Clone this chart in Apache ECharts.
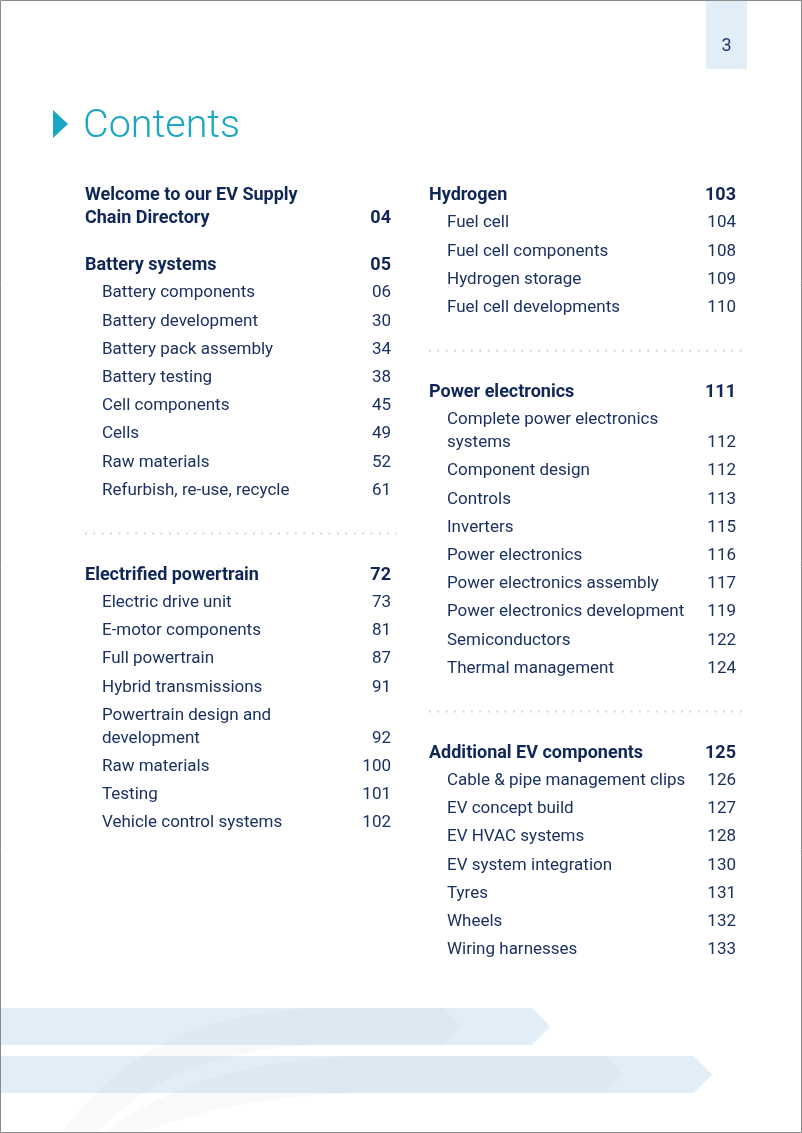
<!DOCTYPE html>
<html><head><meta charset="utf-8">
<script src="https://cdn.jsdelivr.net/npm/echarts@6/dist/echarts.min.js"></script>
<style>html,body{margin:0;padding:0;background:#fff}#c{width:802px;height:1133px}</style>
</head><body><div id="c"></div>
<script>
// ---- content (text, page, kind) ----
// kinds: h = heading, hc = heading continuation line, i = item, ic = item continuation, gap = blank gap, sep = dotted separator
const leftRows = [
  ['Welcome to our EV Supply', '', 'h'],
  ['Chain Directory', '04', 'hc'],
  ['', '', 'gap'],
  ['Battery systems', '05', 'h'],
  ['Battery components', '06', 'i'],
  ['Battery development', '30', 'i'],
  ['Battery pack assembly', '34', 'i'],
  ['Battery testing', '38', 'i'],
  ['Cell components', '45', 'i'],
  ['Cells', '49', 'i'],
  ['Raw materials', '52', 'i'],
  ['Refurbish, re-use, recycle', '61', 'i'],
  ['', '', 'sep'],
  ['Electrified powertrain', '72', 'h'],
  ['Electric drive unit', '73', 'i'],
  ['E-motor components', '81', 'i'],
  ['Full powertrain', '87', 'i'],
  ['Hybrid transmissions', '91', 'i'],
  ['Powertrain design and', '', 'i'],
  ['development', '92', 'ic'],
  ['Raw materials', '100', 'i'],
  ['Testing', '101', 'i'],
  ['Vehicle control systems', '102', 'i']
];
const rightRows = [
  ['Hydrogen', '103', 'h'],
  ['Fuel cell', '104', 'i'],
  ['Fuel cell components', '108', 'i'],
  ['Hydrogen storage', '109', 'i'],
  ['Fuel cell developments', '110', 'i'],
  ['', '', 'sep'],
  ['Power electronics', '111', 'h'],
  ['Complete power electronics', '', 'i'],
  ['systems', '112', 'ic'],
  ['Component design', '112', 'i'],
  ['Controls', '113', 'i'],
  ['Inverters', '115', 'i'],
  ['Power electronics', '116', 'i'],
  ['Power electronics assembly', '117', 'i'],
  ['Power electronics development', '119', 'i'],
  ['Semiconductors', '122', 'i'],
  ['Thermal management', '124', 'i'],
  ['', '', 'sep'],
  ['Additional EV components', '125', 'h'],
  ['Cable & pipe management clips', '126', 'i'],
  ['EV concept build', '127', 'i'],
  ['EV HVAC systems', '128', 'i'],
  ['EV system integration', '130', 'i'],
  ['Tyres', '131', 'i'],
  ['Wheels', '132', 'i'],
  ['Wiring harnesses', '133', 'i']
];
const pageTitle = 'Contents';
const pageNumber = '3';

// ---- layout ----
const NAVY = '#0f2657', ITEM = '#1a3262', TEAL = '#1aa6c4', BAND = '#e2eef7';
const FONT = 'Roboto, "Open Sans", sans-serif';
const ROW = 28.2, WRAP = 23, GAP = 47, SEPGAP = 84, SEPOFF = 45, TOP = 195;

function layout(rows, xHead, xItem, xPage, sepX0, sepX1) {
  const out = {head: [], item: [], headPage: [], itemPage: [], seps: []};
  let y = null, prevKind = null;
  rows.forEach(r => {
    const kind = r[2];
    if (kind === 'gap' || kind === 'sep') { prevKind = kind; return; }
    if (y === null) y = TOP;
    else if (kind.endsWith('c')) y += WRAP;
    else if (prevKind === 'gap') y += GAP;
    else if (prevKind === 'sep') { out.seps.push(y + SEPOFF - 2); y += SEPGAP; }
    else y += ROW;
    const isHead = kind[0] === 'h';
    (isHead ? out.head : out.item).push({value: [isHead ? xHead : xItem, y], name: r[0]});
    if (r[1]) (isHead ? out.headPage : out.itemPage).push({value: [xPage, y], name: r[1]});
    prevKind = kind;
  });
  out.sepLines = out.seps.map(sy => [[sepX0, sy], [sepX1, sy]]);
  return out;
}
const L = layout(leftRows, 85, 102, 391, 85, 397);
const R = layout(rightRows, 429, 447, 736, 429, 743);

function textSeries(data, bold, pos) {
  return {
    type: 'scatter', data: data, symbolSize: 0, silent: true, z: 5,
    itemStyle: {opacity: 1},
    label: {
      show: true, position: pos, distance: 0, opacity: 1,
      offset: bold ? [0, 0.5] : [0, 0],
      formatter: p => p.name,
      fontFamily: FONT, fontSize: bold ? 18 : 17,
      fontWeight: bold ? 'bold' : 'normal',
      color: bold ? NAVY : ITEM,
      verticalAlign: 'middle'
    }
  };
}
function sepSeries(line) {
  return {
    type: 'line', data: line, symbol: 'none', silent: true, z: 4,
    lineStyle: {color: '#c8d5e2', width: 2, type: [1.8, 6.6]}
  };
}

const series = [];
[L, R].forEach(c => {
  series.push(textSeries(c.head, true, 'right'));
  series.push(textSeries(c.item, false, 'right'));
  series.push(textSeries(c.headPage, true, 'left'));
  series.push(textSeries(c.itemPage, false, 'left'));
  c.sepLines.forEach(l => series.push(sepSeries(l)));
});

// quadratic curve sampler for decorative swooshes
function quad(p0, p1, p2, n) {
  const pts = [];
  for (let i = 0; i <= n; i++) {
    const t = i / n, u = 1 - t;
    pts.push([u*u*p0[0] + 2*u*t*p1[0] + t*t*p2[0], u*u*p0[1] + 2*u*t*p1[1] + t*t*p2[1]]);
  }
  return pts;
}
const swoosh1 = [].concat(
  quad([62,1133],[150,1008],[330,1008],30),
  [[444,1008],[461,1026.5],[444,1045]],
  quad([330,1045],[180,1045],[96,1133],30)
);
const swoosh2 = [].concat(
  quad([106,1133],[200,1056],[380,1056],30),
  [[605,1056],[622,1074.5],[605,1093]],
  quad([380,1093],[240,1093],[143,1133],30)
);

const chart = echarts.init(document.getElementById('c'), null, {renderer: 'canvas'});
chart.setOption({
  backgroundColor: '#ffffff',
  animation: false,
  grid: {left: 0, right: 0, top: 0, bottom: 0},
  xAxis: {type: 'value', min: 0, max: 802, show: false},
  yAxis: {type: 'value', min: 0, max: 1133, inverse: true, show: false},
  graphic: [
    {type: 'polygon', z: 1, shape: {points: [[0,1008],[532,1008],[550,1026.5],[532,1045],[0,1045]]}, style: {fill: BAND}},
    {type: 'polygon', z: 1, shape: {points: [[0,1056],[694,1056],[712,1074.5],[694,1093],[0,1093]]}, style: {fill: BAND}},
    {type: 'polygon', z: 2, shape: {points: swoosh1}, style: {fill: 'rgba(110,120,130,0.045)'}},
    {type: 'polygon', z: 2, shape: {points: swoosh2}, style: {fill: 'rgba(110,120,130,0.045)'}},
    {type: 'rect', z: 1, shape: {x: 706, y: 0, width: 41, height: 69}, style: {fill: BAND}},
    {type: 'text', z: 3, x: 726.5, y: 46, style: {text: pageNumber, fill: '#22386a', font: '18px ' + FONT, align: 'center', verticalAlign: 'middle'}},
    {type: 'polygon', z: 3, shape: {points: [[53,110],[68,124],[53,138]]}, style: {fill: TEAL}},
    {type: 'text', z: 3, x: 83, y: 127, style: {text: pageTitle, fill: TEAL, font: '300 39.5px ' + FONT, verticalAlign: 'middle'}},
    {type: 'rect', z: 10, shape: {x: 0.5, y: 0.5, width: 801, height: 1132}, style: {fill: null, stroke: '#8a8a8a', lineWidth: 1}}
  ],
  series: series
});
</script></body></html>
